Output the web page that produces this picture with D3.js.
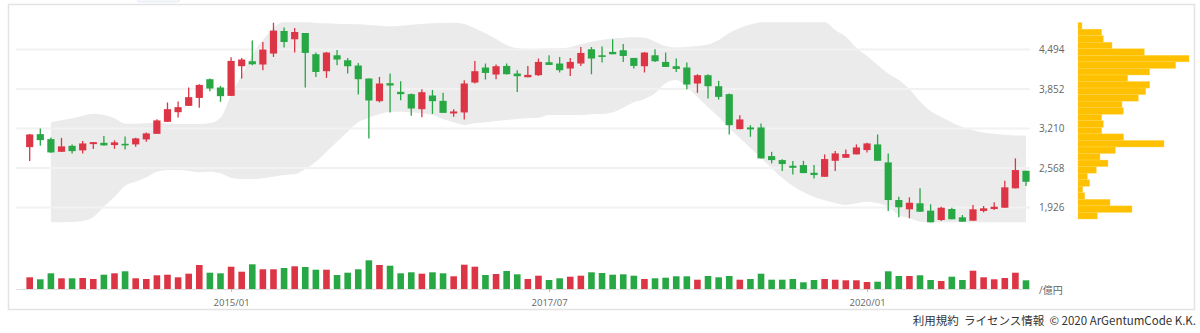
<!DOCTYPE html>
<html>
<head>
<meta charset="utf-8">
<script src="https://cdn.jsdelivr.net/npm/d3@7"></script>
<style>
  html, body { margin: 0; padding: 0; background: #fff; }
  svg { display: block; font-family: "Open Sans", "Noto Sans CJK JP", sans-serif; }
</style>
</head>
<body>
<svg id="chart" width="1200" height="333"></svg>
<script>
// Monthly candles, 2013/06 – 2021/04
const firstMonth = new Date(2013, 5, 1);
const lastMonth = new Date(2021, 3, 1);

const openValues = [
  2908,3119,3038,2832,2929,2855,2957,2978,2941,2962,
  2952,3033,3124,3319,3476,3579,3708,4012,3877,3741,
  4223,4304,4251,4429,4796,4661,4763,4418,4142,4401,
  4320,4234,4023,3655,3947,3806,3769,3525,3747,3660,
  3455,3472,3958,4202,4088,4228,4104,4044,4077,4288,
  4267,4186,4267,4499,4401,4455,4483,4358,4223,4401,
  4293,4223,4202,3942,4077,3898,3769,3200,3228,3228,
  2762,2697,2605,2616,2491,2426,2686,2735,2790,2860,
  2952,2660,2048,1897,1995,1875,1723,1902,1767,1712,
  1870,1902,1923,2238,2524
];
const highValues = [
  3120,3212,3066,3059,2952,3006,2989,3087,3017,3082,
  3059,3147,3363,3634,3650,3877,3931,4023,3903,4369,
  4358,4640,4617,4930,4851,4845,4763,4445,4455,4488,
  4358,4277,4023,4049,4104,3980,3780,3850,3838,3790,
  3525,3996,4309,4267,4251,4267,4158,4228,4348,4401,
  4374,4358,4536,4536,4543,4661,4585,4358,4455,4499,
  4445,4348,4283,4093,4093,3985,3780,3428,3265,3293,
  2832,2709,2681,2686,2616,2790,2843,2871,2952,2978,
  3114,2806,2102,2092,2238,1978,1939,1923,1805,1967,
  1951,2011,2361,2725,2524
];
const lowValues = [
  2681,2929,2811,2832,2806,2806,2876,2936,2881,2871,
  2913,2994,3124,3319,3390,3579,3546,3817,3644,3741,
  4023,4239,4158,4374,4526,4445,3877,4049,4033,4239,
  4104,3764,3050,3634,3472,3671,3416,3395,3449,3465,
  3400,3358,3942,4007,4012,4088,3806,4044,4066,4244,
  4121,4066,4228,4093,4283,4418,4293,4186,4121,4293,
  4212,4130,3850,3790,3699,3682,3114,3200,3076,2725,
  2644,2519,2465,2486,2400,2426,2519,2735,2790,2822,
  2686,1870,1767,1751,1858,1686,1707,1735,1696,1712,
  1848,1886,1923,2238,2275
];
const closeValues = [
  3114,3022,2822,2920,2843,2968,2989,2936,2985,2941,
  3050,3131,3342,3525,3558,3720,3919,3861,3736,4309,
  4332,4255,4494,4802,4617,4780,4439,4130,4445,4332,
  4223,4012,3666,3942,3910,3769,3536,3801,3655,3465,
  3488,3942,4142,4114,4223,4093,4061,4082,4293,4244,
  4158,4293,4439,4348,4374,4418,4390,4228,4445,4304,
  4212,4179,3926,4077,3898,3725,3265,3358,3196,2725,
  2697,2633,2572,2486,2454,2714,2806,2795,2903,2968,
  2686,2048,1930,2004,1858,1686,1923,1735,1696,1897,
  1913,1939,2254,2535,2345
];

// Price band (upper / lower); the first two months have no band
const bandUpper = [
  null,null,3311,3344,3377,3419,3451,3430,3377,3289,
  3289,3295,3300,3292,3284,3284,3284,3300,3381,3755,
  4080,4405,4649,4844,4950,4960,4950,4926,4921,4914,
  4909,4904,4893,4882,4872,4882,4898,4909,4921,4926,
  4930,4909,4839,4758,4666,4568,4514,4503,4503,4514,
  4514,4531,4579,4622,4649,4677,4687,4693,4687,4622,
  4552,4527,4536,4552,4576,4649,4763,4844,4901,4945,
  4960,4975,4980,4970,4960,4945,4812,4703,4519,4389,
  4243,4105,4000,3853,3650,3495,3398,3308,3235,3181,
  3147,3125,3108,3097,3094
];
const bandLower = [
  null,null,1650,1660,1690,1707,1772,1940,2102,2281,
  2346,2418,2509,2536,2536,2520,2499,2509,2483,2411,
  2390,2390,2401,2427,2455,2466,2552,2671,2834,2996,
  3159,3311,3386,3442,3484,3484,3474,3458,3430,3365,
  3311,3268,3295,3311,3333,3349,3365,3377,3386,3430,
  3430,3430,3430,3442,3446,3474,3549,3637,3690,3783,
  3945,3999,3885,3723,3560,3398,3219,3056,2894,2731,
  2569,2406,2276,2178,2097,2046,1998,1967,1995,2021,
  1995,1940,1805,1751,1696,1670,1650,1640,1630,1640,
  1650,1660,1665,1670,1675
];

// Monthly trading value (億円)
const volumeValues = [
  1170,970,1570,1070,1070,1100,1000,1430,1570,1770,
  1070,1000,1370,1430,1170,1530,2400,1630,1570,2230,
  1730,2470,1970,1970,2100,2270,2200,1930,1930,1400,
  1630,1970,2870,2400,2330,1570,1670,1530,1670,1570,
  1270,2430,2230,1400,1500,1800,1470,1000,1330,900,
  1070,1230,1330,1670,1600,1430,1470,1330,1000,1070,
  1130,1270,1270,930,1300,1170,1300,930,1000,1530,
  930,930,1000,670,900,1000,930,870,870,700,
  730,1770,1300,1300,1370,900,800,1230,900,1830,
  1170,970,1100,1630,870
];

// Trading value by price level, top bin first
const profileValues = [
  40,237,253,340,663,1110,977,717,497,717,
  677,603,440,453,237,253,237,457,860,373,
  220,300,183,93,117,47,67,320,540,193
];
const profileRange = [1740, 4932];

const priceDomain = [1686, 4937];
const priceTicks = [1926, 2568, 3210, 3852, 4494];
const volumeDomain = [0, 3000];
const dateTickLabels = ["2015/01", "2017/07", "2020/01"];
const volumeUnit = "/億円";
const footerText = "利用規約  ライセンス情報  © 2020 ArGentumCode K.K.";

const UP = "#dc3545", DOWN = "#28a745";

const months = d3.timeMonth.range(firstMonth, d3.timeMonth.offset(lastMonth, 1));
const fmtMonth = d3.timeFormat("%Y/%m");
const rows = months.map((m, i) => ({
  i, label: fmtMonth(m),
  o: openValues[i], h: highValues[i], l: lowValues[i], c: closeValues[i],
  up: bandUpper[i], lo: bandLower[i], v: volumeValues[i]
}));

const svg = d3.select("#chart");

const plot = { left: 16, right: 1030, top: 22.3, bottom: 222.3 };
const x = d3.scalePoint().domain(rows.map(d => d.label)).range([29.7, 1026]);
const y = d3.scaleLinear().domain(priceDomain).range([plot.bottom, plot.top]);
const yVol = d3.scaleLinear().domain(volumeDomain).range([289, 259]);

// faint tab edge peeking in at the top of the card
svg.append("rect")
  .attr("x", 137).attr("y", -6).attr("width", 43).attr("height", 8).attr("rx", 3)
  .attr("fill", "#f3f6fb").attr("stroke", "#e6ebf3");

// outer frame
svg.append("rect")
  .attr("x", 8.5).attr("y", 4.5).attr("width", 1186).attr("height", 305)
  .attr("fill", "none").attr("stroke", "#e3e3e3").attr("stroke-width", 1.5);

svg.append("defs").append("clipPath").attr("id", "plotClip")
  .append("rect")
  .attr("x", plot.left).attr("y", plot.top)
  .attr("width", plot.right - plot.left).attr("height", plot.bottom - plot.top);

// band
const bandArea = d3.area()
  .defined(d => d.up != null && d.lo != null)
  .x(d => x(d.label))
  .y0(d => y(d.lo))
  .y1(d => y(d.up))
  .curve(d3.curveMonotoneX);
svg.append("path")
  .datum(rows)
  .attr("clip-path", "url(#plotClip)")
  .attr("fill", "#ebebeb")
  .attr("d", bandArea);

// grid
svg.append("g").selectAll("line")
  .data(priceTicks).join("line")
  .attr("x1", plot.left).attr("x2", plot.right)
  .attr("y1", d => y(d)).attr("y2", d => y(d))
  .attr("stroke", "#f2f2f2").attr("stroke-width", 2);

// price axis labels
const yAxis = d3.axisRight(y).tickValues(priceTicks).tickFormat(d3.format(",")).tickSize(0).tickPadding(0);
const gy = svg.append("g").attr("transform", "translate(1039,0)").call(yAxis);
gy.select(".domain").remove();
gy.selectAll("text").attr("fill", "#666").attr("font-size", "10px")
  .attr("font-family", "'Open Sans', sans-serif");

// candles
const candle = svg.append("g").selectAll("g").data(rows).join("g");
candle.append("line")
  .attr("x1", d => x(d.label)).attr("x2", d => x(d.label))
  .attr("y1", d => y(d.h)).attr("y2", d => y(d.l))
  .attr("stroke", d => d.c >= d.o ? UP : DOWN).attr("stroke-width", 1.3);
candle.append("rect")
  .attr("x", d => x(d.label) - 3.6).attr("width", 7.2)
  .attr("y", d => y(Math.max(d.o, d.c)))
  .attr("height", d => Math.max(1.6, Math.abs(y(d.o) - y(d.c))))
  .attr("fill", d => d.c >= d.o ? UP : DOWN);

// volume bars
svg.append("g").selectAll("rect").data(rows).join("rect")
  .attr("x", d => x(d.label) - 3.3).attr("width", 6.6)
  .attr("y", d => yVol(d.v)).attr("height", d => yVol(0) - yVol(d.v))
  .attr("fill", d => d.c >= d.o ? UP : DOWN);

// date axis
const xAxis = d3.axisBottom(x).tickValues(dateTickLabels).tickSize(3).tickPadding(7);
const gx = svg.append("g").attr("transform", "translate(0,289)").call(xAxis);
gx.select(".domain").attr("d", `M${plot.left},0.5H${plot.right}`).attr("stroke", "#ddd");
gx.selectAll(".tick line").attr("stroke", "#bbb");
gx.selectAll("text").attr("fill", "#666").attr("font-size", "9.5px")
  .attr("font-family", "'Open Sans', sans-serif");

svg.append("text")
  .attr("x", 1039).attr("y", 294)
  .attr("fill", "#666").attr("font-size", "10px")
  .attr("font-family", "'Open Sans', 'Noto Sans CJK JP', sans-serif")
  .text(volumeUnit);

// price-level profile
const nBins = profileValues.length;
const binStep = (profileRange[1] - profileRange[0]) / nBins;
const xProf = d3.scaleLinear().domain([0, d3.max(profileValues)]).range([1078, 1189]);
svg.append("g").selectAll("rect").data(profileValues).join("rect")
  .attr("x", xProf(0))
  .attr("y", (d, i) => y(profileRange[1] - i * binStep))
  .attr("width", d => xProf(d) - xProf(0))
  .attr("height", (d, i) => y(profileRange[1] - (i + 1) * binStep) - y(profileRange[1] - i * binStep))
  .attr("fill", "#ffc000")
  .attr("stroke", "#ffd54a").attr("stroke-width", 0.4);

// footer
svg.append("text")
  .attr("x", 1196).attr("y", 324.5).attr("text-anchor", "end")
  .attr("fill", "#333").attr("font-size", "11.5px")
  .attr("font-family", "'Noto Sans CJK JP', 'Open Sans', sans-serif")
  .attr("xml:space", "preserve")
  .style("white-space", "pre")
  .text(footerText);
</script>
</body>
</html>
